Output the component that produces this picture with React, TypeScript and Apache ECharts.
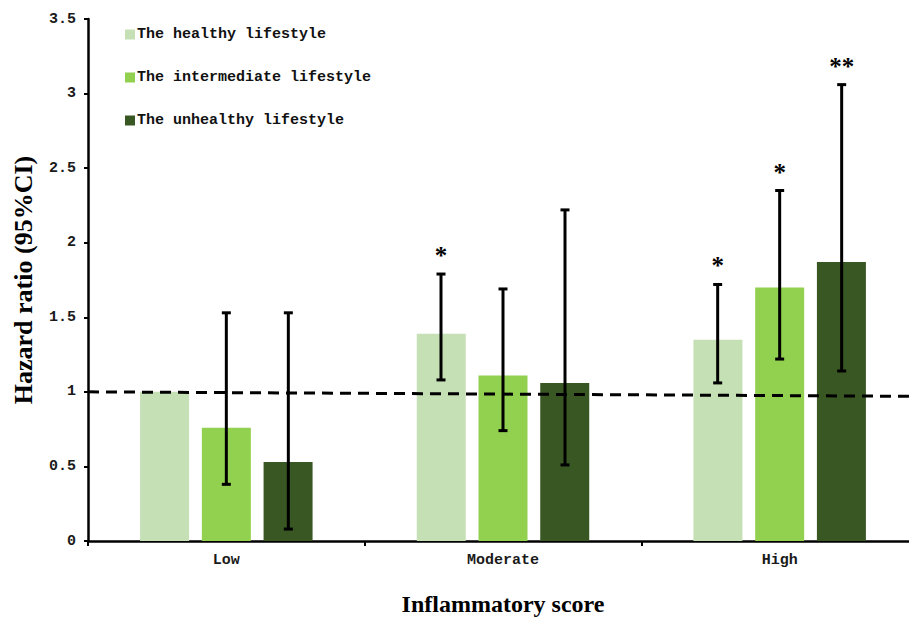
import React, { useEffect, useRef } from "react";
import * as echarts from "echarts";

const categories = ["Low", "Moderate", "High"];
const seriesNames = [
  "The healthy lifestyle",
  "The intermediate lifestyle",
  "The unhealthy lifestyle",
];
const seriesColors = ["#c5e0b4", "#92d050", "#385723"];

const healthyHR = [1.0, 1.39, 1.35];
const healthyLow = [null, 1.08, 1.06];
const healthyHigh = [null, 1.79, 1.72];
const healthySig = ["", "*", "*"];

const intermediateHR = [0.76, 1.11, 1.7];
const intermediateLow = [0.38, 0.74, 1.22];
const intermediateHigh = [1.53, 1.69, 2.35];
const intermediateSig = ["", "", "*"];

const unhealthyHR = [0.53, 1.06, 1.87];
const unhealthyLow = [0.08, 0.51, 1.14];
const unhealthyHigh = [1.53, 2.22, 3.06];
const unhealthySig = ["", "", "**"];

const referenceLine = [
  [0, 1.0],
  [3, 0.97],
];

const yMin = 0;
const yMax = 3.5;
const yInterval = 0.5;

const BAR_W = 49;
const BAR_STEP = 62;

function errorSeries(
  idx: number,
  lows: (number | null)[],
  highs: (number | null)[],
  sigs: string[]
) {
  const data: any[] = [];
  const sigList: string[] = [];
  lows.forEach((lo, i) => {
    const hi = highs[i];
    if (lo != null && hi != null) {
      data.push([i, lo, hi]);
      sigList.push(sigs[i]);
    }
  });
  const offset = (idx - 1) * BAR_STEP;
  return {
    type: "custom",
    name: seriesNames[idx] + " CI",
    xAxisIndex: 0,
    yAxisIndex: 0,
    z: 5,
    encode: { x: 0, y: [1, 2] },
    data,
    renderItem: (params: any, api: any) => {
      const ci = api.value(0);
      const lo = api.value(1);
      const hi = api.value(2);
      const pLo = api.coord([ci, lo]);
      const pHi = api.coord([ci, hi]);
      const x = pLo[0] + offset;
      const cap = 4.5;
      const st = { stroke: "#000", lineWidth: 3 };
      const children: any[] = [
        { type: "line", shape: { x1: x, y1: pLo[1], x2: x, y2: pHi[1] }, style: st },
        { type: "line", shape: { x1: x - cap, y1: pHi[1], x2: x + cap, y2: pHi[1] }, style: st },
        { type: "line", shape: { x1: x - cap, y1: pLo[1], x2: x + cap, y2: pLo[1] }, style: st },
      ];
      const sig = sigList[params.dataIndex];
      if (sig) {
        children.push({
          type: "text",
          style: {
            x: x,
            y: pHi[1] - 6,
            text: sig,
            fill: "#000",
            font: "bold 25px 'Liberation Serif'",
            align: "center",
            verticalAlign: "bottom",
          },
        });
      }
      return { type: "group", children };
    },
  };
}

export default function App() {
  const ref = useRef<HTMLDivElement>(null);
  useEffect(() => {
    if (!ref.current) return;
    const chart = echarts.init(ref.current, undefined, { renderer: "svg" });
    const hrs = [healthyHR, intermediateHR, unhealthyHR];
    const labelFont = {
      fontFamily: "'Liberation Mono', monospace",
      fontSize: 15,
      fontWeight: "bold",
      color: "#1a1a1a",
    };
    chart.setOption({
      animation: false,
      backgroundColor: "#fff",
      grid: {
        left: 88,
        right: -9,
        top: 19,
        bottom: 76,
        containLabel: false,
        outerBoundsMode: "none",
      },
      legend: {
        data: seriesNames,
        orient: "vertical",
        left: 120,
        top: 22,
        itemWidth: 10,
        itemHeight: 10,
        itemGap: 28,
        icon: "rect",
        textStyle: {
          fontFamily: "'Liberation Mono', monospace",
          fontSize: 15,
          fontWeight: "bold",
          color: "#111",
          padding: [0, 0, 0, -3],
          lineHeight: 15,
        },
      },
      xAxis: [
        {
          type: "category",
          data: categories,
          name: "Inflammatory score",
          nameLocation: "middle",
          nameGap: 50,
          nameTextStyle: {
            fontFamily: "'Liberation Serif', serif",
            fontWeight: "bold",
            fontSize: 24,
            lineHeight: 26,
            color: "#000",
          },
          axisLine: { lineStyle: { color: "#000", width: 2.5 } },
          axisTick: { show: true, length: 5, lineStyle: { color: "#000", width: 2 } },
          axisLabel: { ...labelFont, margin: 12 },
        },
        {
          type: "value",
          min: 0,
          max: 3,
          show: false,
        },
      ],
      yAxis: {
        type: "value",
        min: yMin,
        max: yMax,
        interval: yInterval,
        name: "Hazard ratio (95%CI)",
        nameLocation: "middle",
        nameGap: 52,
        nameTextStyle: {
          fontFamily: "'Liberation Serif', serif",
          fontWeight: "bold",
          fontSize: 26,
          color: "#000",
        },
        axisLine: { show: true, lineStyle: { color: "#000", width: 2.5 } },
        axisTick: { show: true, length: 4, lineStyle: { color: "#000", width: 2 } },
        splitLine: { show: false },
        axisLabel: { ...labelFont, margin: 12 },
      },
      series: [
        ...hrs.map((d, i) => ({
          type: "bar",
          name: seriesNames[i],
          data: d,
          barWidth: BAR_W,
          barGap: "26%",
          itemStyle: { color: seriesColors[i] },
          xAxisIndex: 0,
          yAxisIndex: 0,
        })),
        errorSeries(0, healthyLow, healthyHigh, healthySig),
        errorSeries(1, intermediateLow, intermediateHigh, intermediateSig),
        errorSeries(2, unhealthyLow, unhealthyHigh, unhealthySig),
        {
          type: "line",
          name: "ref",
          xAxisIndex: 1,
          yAxisIndex: 0,
          data: referenceLine,
          symbol: "none",
          z: 4,
          lineStyle: { color: "#000", width: 3, type: [11, 7] },
        },
      ],
    });
    return () => chart.dispose();
  }, []);
  return (
    <div
      ref={ref}
      style={{ position: "fixed", left: 0, top: 0, width: 909, height: 617, overflow: "hidden" }}
    />
  );
}
